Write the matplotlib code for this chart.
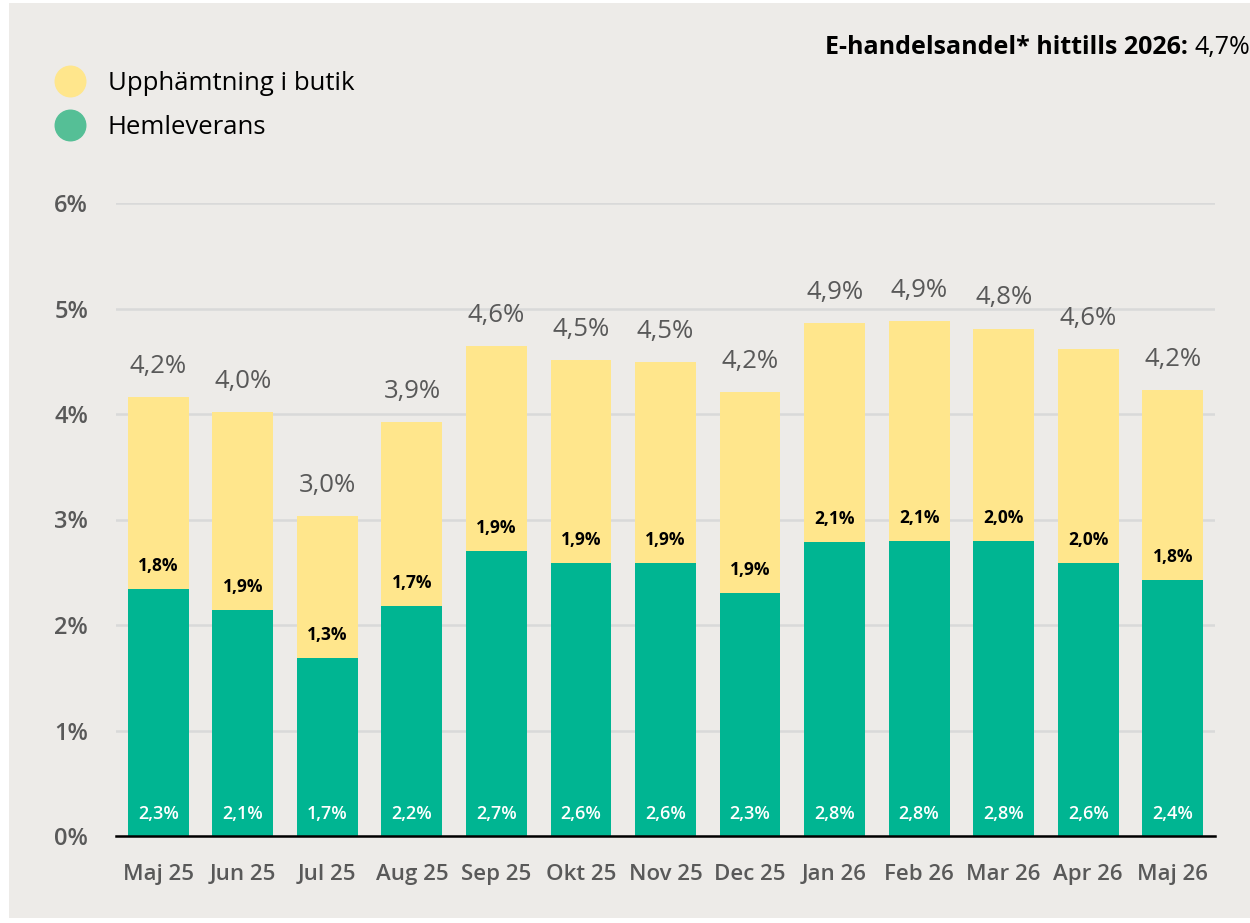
import numpy as np
import matplotlib
matplotlib.use("Agg")
import matplotlib.pyplot as plt
from matplotlib.patches import Rectangle
from matplotlib.lines import Line2D

plt.rcParams['font.family'] = ['Open Sans', 'DejaVu Sans']

# data
months = ['Maj 25', 'Jun 25', 'Jul 25', 'Aug 25', 'Sep 25', 'Okt 25', 'Nov 25',
          'Dec 25', 'Jan 26', 'Feb 26', 'Mar 26', 'Apr 26', 'Maj 26']
hemleverans = [2.34, 2.14, 1.69, 2.18, 2.70, 2.59, 2.59, 2.30, 2.79, 2.80, 2.80, 2.59, 2.43]
upphamtning = [1.82, 1.88, 1.34, 1.74, 1.94, 1.92, 1.90, 1.91, 2.07, 2.08, 2.01, 2.03, 1.80]
yticks = [0, 1, 2, 3, 4, 5, 6]
ytick_labels = ['0%', '1%', '2%', '3%', '4%', '5%', '6%']
share_label = 'E-handelsandel* hittills 2026:'
share_value = '4,7%'

c_green = '#00B592'
c_yellow = '#FFE68C'
c_green_leg = '#55BF96'
c_grey = '#595959'
bg = '#EDEBE8'


def pct(v):
    return f"{v:.1f}".replace('.', ',') + '%'


fig = plt.figure(figsize=(12.5, 9.23), dpi=100, facecolor='white')
fig.patches.append(Rectangle((9 / 1250, 5 / 923), 1 - 9 / 1250, 1 - 8 / 923,
                             transform=fig.transFigure, facecolor=bg,
                             edgecolor='none', zorder=-10))

ax = fig.add_axes([116 / 1250, (923 - 836) / 923, (1215 - 116) / 1250, (836 - 203) / 923])
ax.set_facecolor('none')

x = np.arange(len(months))
green = np.array(hemleverans)
yellow = np.array(upphamtning)
total = green + yellow

ax.bar(x, green, width=0.72, color=c_green, zorder=3)
ax.bar(x, yellow, width=0.72, bottom=green, color=c_yellow, zorder=3)

for i in range(len(months)):
    ax.annotate(pct(green[i]), (x[i], 0), xytext=(0, 16), textcoords='offset points',
                ha='center', va='center', color='white', fontsize=13, fontweight='semibold', zorder=5)
    ax.annotate(pct(yellow[i]), (x[i], green[i]), xytext=(0, 16.5), textcoords='offset points',
                ha='center', va='center', color='black', fontsize=12.5, fontweight='bold', zorder=5)
    ax.annotate(pct(total[i]), (x[i], total[i]), xytext=(0, 22), textcoords='offset points',
                ha='center', va='center', color=c_grey, fontsize=18.5, zorder=5)

ax.set_xlim(-0.5, len(months) - 0.5)
ax.set_ylim(0, 6)
ax.set_yticks(yticks)
ax.set_yticklabels(ytick_labels)
ax.set_xticks(x)
ax.set_xticklabels(months)
ax.grid(axis='y', color='#D9D9D9', lw=1.8, zorder=0)
for s in ['top', 'right', 'left']:
    ax.spines[s].set_visible(False)
ax.spines['bottom'].set_color('black')
ax.spines['bottom'].set_linewidth(1.8)
ax.spines['bottom'].set_zorder(4)
ax.tick_params(axis='both', length=0, labelcolor=c_grey, labelsize=16)
ax.tick_params(axis='y', pad=20, labelsize=17)
ax.tick_params(axis='x', pad=20)
for t in ax.get_xticklabels() + ax.get_yticklabels():
    t.set_fontweight('semibold')

handles = [Line2D([], [], ls='none', marker='o', ms=22, color=c_yellow, label='Upphämtning i butik'),
           Line2D([], [], ls='none', marker='o', ms=22, color=c_green_leg, label='Hemleverans')]
fig.legend(handles=handles, loc='upper left', bbox_to_anchor=(0.0275, 0.934), frameon=False,
           fontsize=18.5, handletextpad=0.45, labelspacing=0.75, borderaxespad=0)

t_val = fig.text(1.0, 0.949, share_value, ha='right', va='center', fontsize=18, color='black')
fig.canvas.draw()
bb = t_val.get_window_extent()
fig.text(bb.x0 - 6, bb.y0 + bb.height / 2, share_label, transform=None,
         ha='right', va='center', fontsize=18, fontweight='bold', color='black')

fig.savefig('out.png', dpi=100, facecolor='white')
